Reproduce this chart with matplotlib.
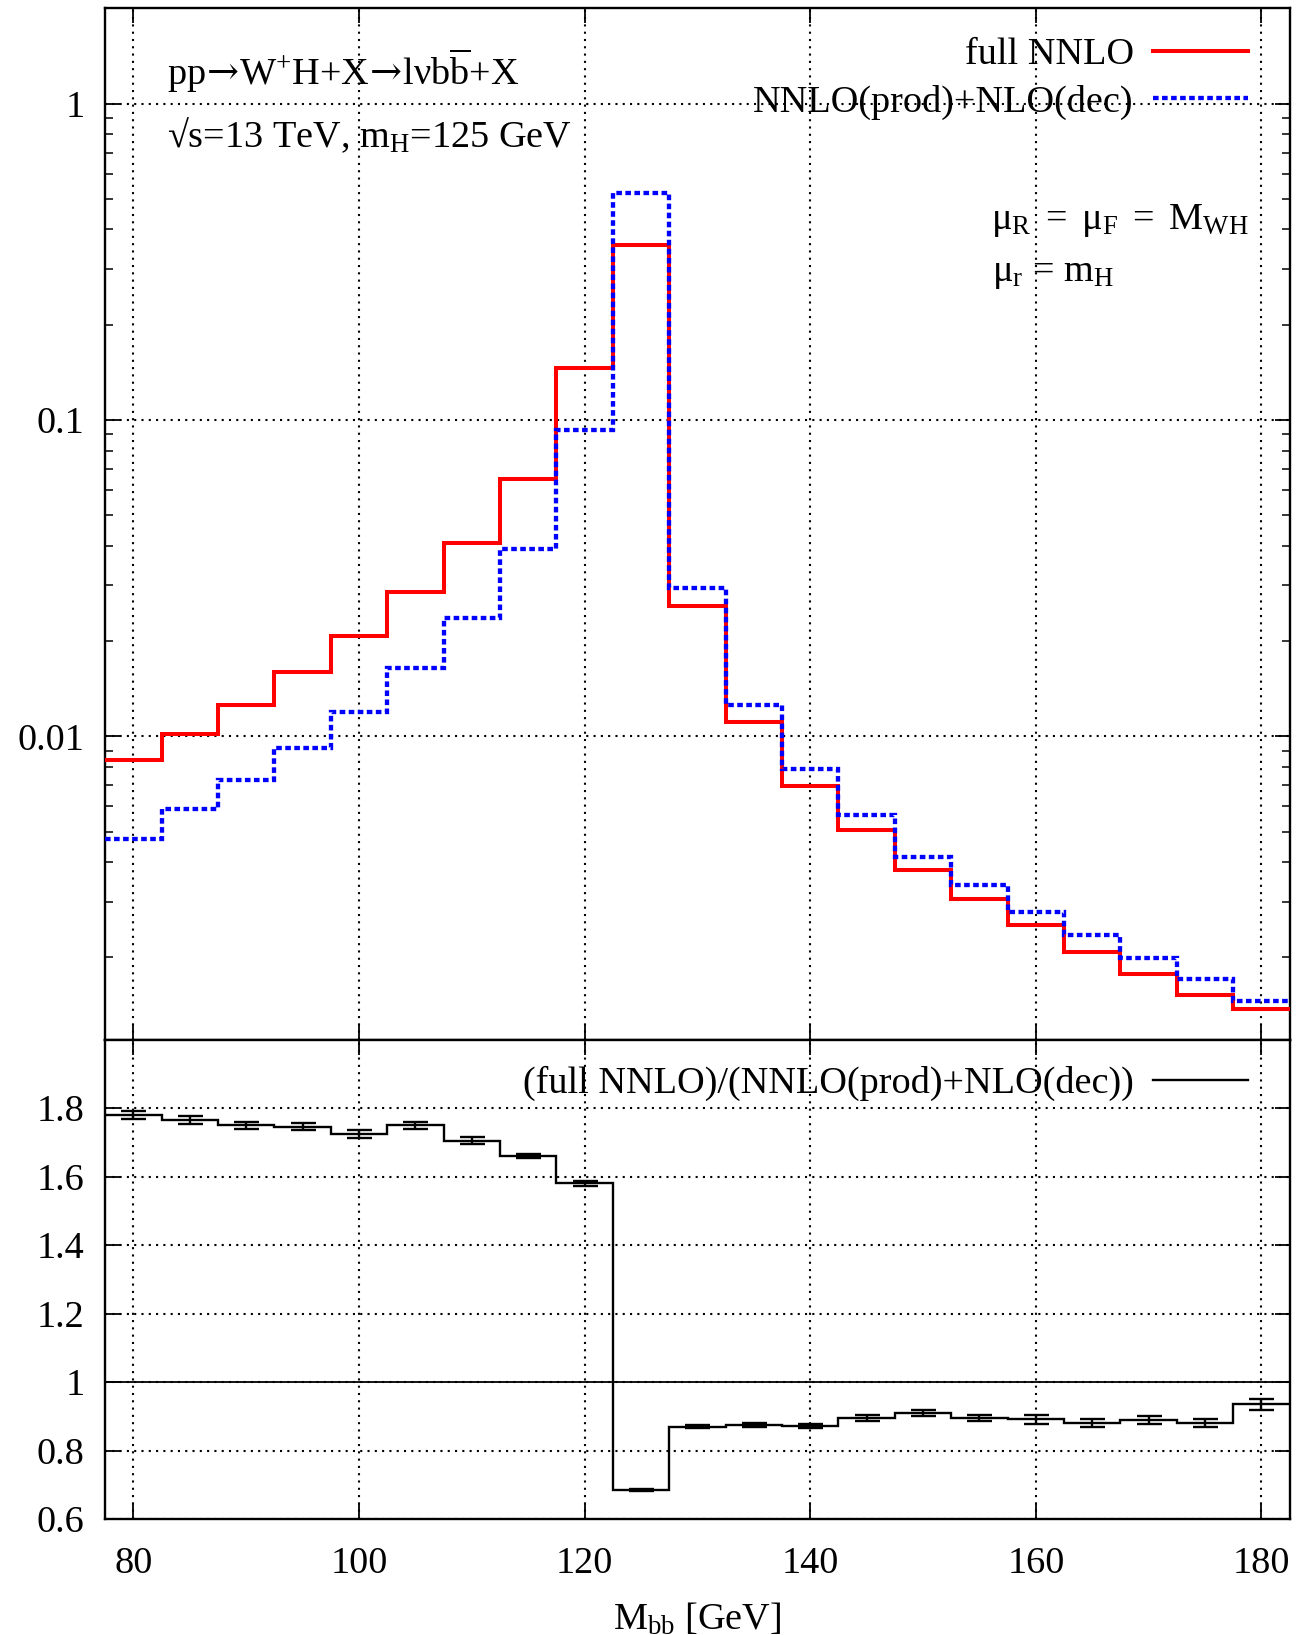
import matplotlib.pyplot as plt
from matplotlib.lines import Line2D
import numpy as np

plt.rcParams['font.family'] = ['Liberation Serif', 'DejaVu Serif']
plt.rcParams['mathtext.fontset'] = 'custom'
plt.rcParams['mathtext.rm'] = 'Liberation Serif'
plt.rcParams['mathtext.it'] = 'Liberation Serif'
plt.rcParams['mathtext.sf'] = 'DejaVu Serif'
plt.rcParams['mathtext.default'] = 'rm'
plt.rcParams['font.size'] = 27.5

# M_bb bin edges [GeV] and bin centres
edges = [77.5, 82.5, 87.5, 92.5, 97.5, 102.5, 107.5, 112.5, 117.5, 122.5, 127.5,
         132.5, 137.5, 142.5, 147.5, 152.5, 157.5, 162.5, 167.5, 172.5, 177.5, 182.5]
centers = [80, 85, 90, 95, 100, 105, 110, 115, 120, 125, 130,
           135, 140, 145, 150, 155, 160, 165, 170, 175, 180]

full_nnlo = [0.0084, 0.0102, 0.01256, 0.0160, 0.0207, 0.0285, 0.0407, 0.0652, 0.1456, 0.356, 0.0258,
             0.0111, 0.00695, 0.00505, 0.00378, 0.00306, 0.00253, 0.00208, 0.00177, 0.00152, 0.00137]
nnlo_prod_nlo_dec = [0.00475, 0.00588, 0.00728, 0.00921, 0.0119, 0.0164, 0.0236, 0.0392, 0.0931, 0.521, 0.0294,
                     0.0126, 0.0079, 0.00562, 0.00415, 0.00338, 0.00279, 0.00235, 0.00199, 0.00171, 0.00146]

ratio = [1.78, 1.765, 1.75, 1.745, 1.725, 1.75, 1.705, 1.66, 1.58, 0.685, 0.87,
         0.875, 0.872, 0.895, 0.91, 0.895, 0.892, 0.88, 0.89, 0.88, 0.935]
ratio_err = [0.012, 0.012, 0.01, 0.01, 0.012, 0.01, 0.009, 0.007, 0.007, 0.003, 0.004,
             0.005, 0.007, 0.008, 0.008, 0.01, 0.013, 0.011, 0.012, 0.012, 0.017]

fig = plt.figure(figsize=(12.98, 16.35), dpi=100)
ax1 = fig.add_axes([0.081, 0.3642, 0.9126, 0.6307])
ax2 = fig.add_axes([0.081, 0.0709, 0.9126, 0.2933], sharex=ax1)

grid_kw = dict(color='black', lw=1.5, ls=(0, (1, 2.5)))
blue_ls = (0, (1.3, 0.8))

# top panel
ax1.stairs(full_nnlo, edges, color='red', lw=2.9, baseline=None, zorder=3)
ax1.stairs(nnlo_prod_nlo_dec, edges, color='blue', lw=3.1, ls=blue_ls, baseline=None, zorder=4)
ax1.set_yscale('log')
ax1.set_ylim(0.0011, 2.0)
ax1.set_xlim(77.5, 182.5)
ax1.set_yticks([0.01, 0.1, 1], labels=['0.01', '0.1', '1'])
ax1.set_xticks([80, 100, 120, 140, 160, 180])
ax1.grid(True, which='major', **grid_kw)
ax1.tick_params(which='both', direction='in', top=True, right=True, labelbottom=False)
ax1.tick_params(which='major', length=11, width=1.3, pad=15)
ax1.tick_params(which='minor', length=6, width=1.1)

handles = [Line2D([], [], color='red', lw=2.9),
           Line2D([], [], color='blue', lw=3.1, ls=blue_ls)]
ax1.legend(handles, ['full NNLO', 'NNLO(prod)+NLO(dec)'], loc='upper right',
           bbox_to_anchor=(0.965, 0.972), frameon=False, markerfirst=False,
           handlelength=2.5, handletextpad=0.5, labelspacing=0.33,
           borderpad=0, borderaxespad=0)

arrow = r'$\!\mathsf{\rightarrow}\!$'
ax1.text(0.052, 0.939, 'pp' + arrow + r'W$^{+}$H+X' + arrow + r'lνb$\overline{\rm b}$+X',
         transform=ax1.transAxes, va='center')
ax1.text(0.052, 0.877, r'√s=13 TeV, m$_{\rm H}$=125 GeV', transform=ax1.transAxes, va='center')
ax1.text(0.965, 0.794, r'μ$_{\rm R}\,$ = $\,$μ$_{\rm F}\,$ = $\,$M$_{\rm WH}$', transform=ax1.transAxes,
         va='center', ha='right')
ax1.text(0.749, 0.743, r'μ$_{\rm r}$ = m$_{\rm H}$', transform=ax1.transAxes, va='center', ha='left')

# ratio panel
ax2.stairs(ratio, edges, color='black', lw=1.7, baseline=None, zorder=3)
ax2.errorbar(centers, ratio, yerr=ratio_err, fmt='none', ecolor='black',
             elinewidth=1.7, capsize=9, capthick=1.7, zorder=3)
ax2.axhline(1.0, color='black', lw=1.3)
ax2.set_ylim(0.6, 2.0)
ax2.set_yticks([0.6, 0.8, 1.0, 1.2, 1.4, 1.6, 1.8], labels=['0.6', '0.8', '1', '1.2', '1.4', '1.6', '1.8'])
ax2.set_xticks([80, 100, 120, 140, 160, 180], labels=['80', '100', '120', '140', '160', '180'])
ax2.grid(True, which='major', **grid_kw)
ax2.tick_params(which='both', direction='in', top=True, right=True)
ax2.tick_params(which='major', length=11, width=1.3)
ax2.tick_params(axis='x', pad=20)
ax2.tick_params(axis='y', pad=15)
ax2.set_xlabel(r'M$_{\rm bb}$ [GeV]', labelpad=14)

ax2.legend([Line2D([], [], color='black', lw=1.7)], ['(full NNLO)/(NNLO(prod)+NLO(dec))'],
           loc='upper right', bbox_to_anchor=(0.965, 0.945), frameon=False, markerfirst=False,
           handlelength=2.5, handletextpad=0.5, borderpad=0, borderaxespad=0)

for ax in (ax1, ax2):
    for s in ax.spines.values():
        s.set_linewidth(1.7)

fig.savefig('out.png', dpi=100)
